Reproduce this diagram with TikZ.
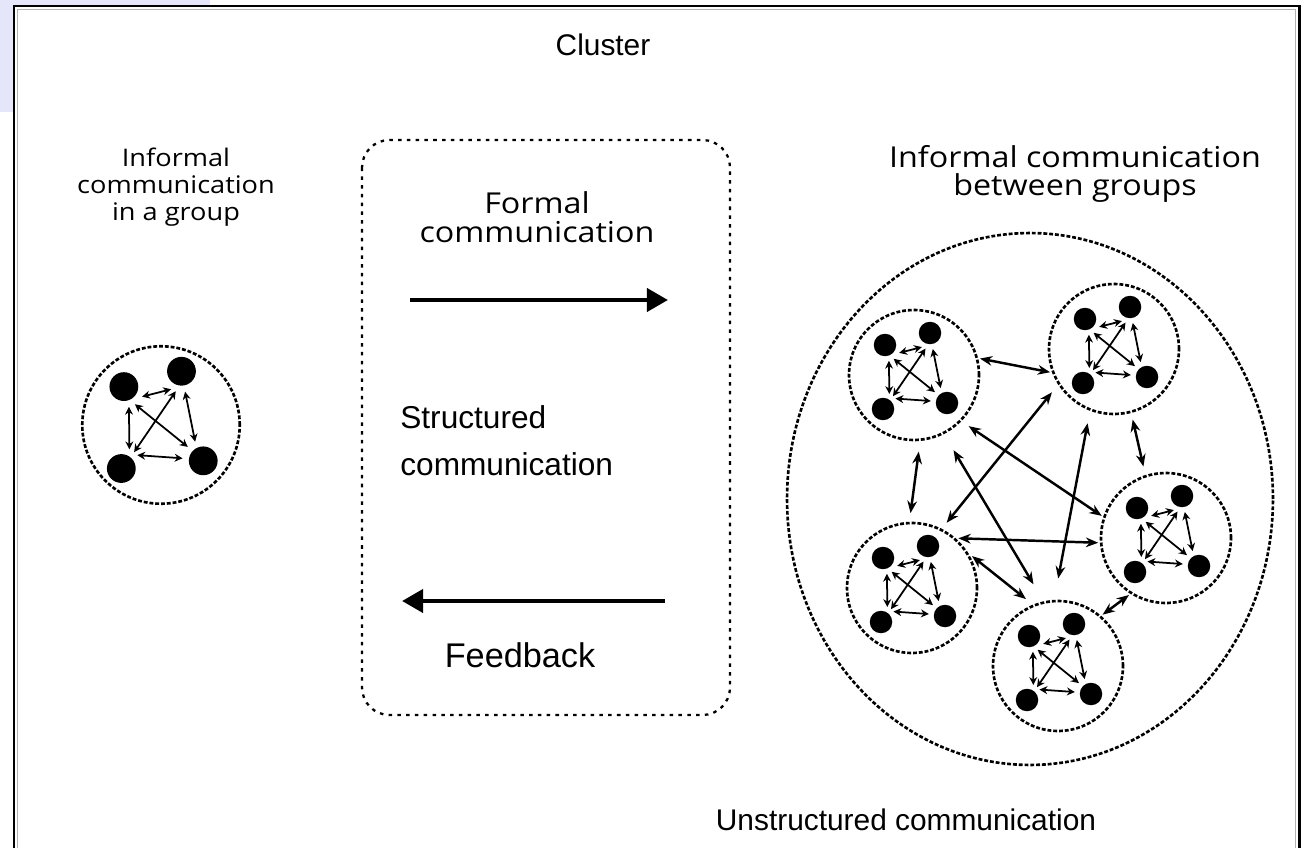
\documentclass[tikz,border=0pt]{standalone}
\usepackage{fontspec}
\setmainfont{Liberation Sans}
\newfontfamily\myriad[FakeStretch=1.12]{Open Sans}
\usetikzlibrary{arrows.meta}
\definecolor{lavend}{RGB}{230,230,250}

\begin{document}
\begin{tikzpicture}[x=0.02cm,y=-0.02cm,
  dot/.style = {circle,fill,inner sep=0pt},
  grp/.style = {circle,draw,line width=1.5pt,dash pattern=on 2.2pt off 1.1pt,inner sep=0pt,outer sep=1.7pt},
  inarr/.style = {{Stealth[length=4.5pt,width=4.5pt]}-{Stealth[length=4.5pt,width=4.5pt]},line width=1pt},
  exarr/.style = {{Stealth[length=7pt,width=5.5pt]}-{Stealth[length=7pt,width=5.5pt]},line width=1.4pt},
  bigarr/.style = {-{Triangle[length=12pt,width=13pt]},line width=2.6pt},
  hlv/.style = {font=\fontsize{17}{20}\selectfont},
  myr/.style = {font=\myriad\fontsize{16.4}{16.4}\selectfont,align=center}]
  \useasboundingbox (0,0) rectangle (1303,848);
  \fill[lavend] (0,0) rectangle (210,112);
  \fill[white] (14,6) rectangle (1299,848);
  \draw[line width=1.7pt] (14,848) -- (14,6) -- (1299,6) -- (1299,848);
  \draw[black!30,line width=0.6pt] (17.5,848) -- (17.5,9.5) -- (1295.5,9.5) -- (1295.5,848);
  % texts
  \node (cluster) at (603,45) [hlv] {Cluster};
  \node (ingroup) at (176,187) [myr,font=\myriad\fontsize{13.8}{15.4}\selectfont] {Informal\\communication\\in a group};
  \node (formal) at (537,217) [myr] {Formal\\communication};
  \node (between) at (1075,174) [myr] {Informal communication\\between groups};
  \node (struct) at (400,441) [hlv,anchor=west,inner sep=0pt,align=left,font=\fontsize{18}{26.7}\selectfont] {Structured\\communication};
  \node (feedb) at (520,655) [hlv,font=\fontsize{19.5}{22}\selectfont] {Feedback};
  \node (unstr) at (906,820) [hlv] {Unstructured communication};
  % formal box
  \draw[line width=1.3pt,dash pattern=on 2pt off 3pt,rounded corners=0.55cm] (362,140) rectangle (730,715);
  \coordinate (fa) at (410,300);
  \coordinate (fb) at (668,300);
  \coordinate (ka) at (665,601);
  \coordinate (kb) at (402,601);
  \draw[bigarr] (fa) -- (fb);
  \draw[bigarr] (ka) -- (kb);
  % groups
  \draw[line width=1.5pt,dash pattern=on 2.2pt off 1.1pt] (1030,499) ellipse [x radius=4.86cm,y radius=5.32cm];
  \foreach \g/\x/\y/\s/\d in {g0/161/425/1.28/3.15,g1/914/375/1/2.6,g2/1114/349/1/2.6,g3/1166/538/1/2.6,g4/912/588/1/2.6,g5/1058/666/1/2.6}{
    \node (\g) at (\x,\y) [grp,minimum size=\d cm] {};
    \node (\g-a) at ({\x-29*\s},{\y-30*\s}) [dot,minimum size=0.45cm*\s,outer sep=0.1cm*\s] {};
    \node (\g-b) at ({\x+16*\s},{\y-42*\s}) [dot,minimum size=0.45cm*\s,outer sep=0.1cm*\s] {};
    \node (\g-c) at ({\x-31*\s},{\y+34*\s}) [dot,minimum size=0.45cm*\s,outer sep=0.1cm*\s] {};
    \node (\g-d) at ({\x+33*\s},{\y+28*\s}) [dot,minimum size=0.45cm*\s,outer sep=0.1cm*\s] {};
    \draw[inarr] (\g-a.331) -- (\g-b.240);
    \draw[inarr] (\g-a.284) -- (\g-c.67);
    \draw[inarr] (\g-b.280) -- (\g-d.113);
    \draw[inarr] (\g-c.40) -- (\g-d.173);
    \draw[inarr] (\g-a.302) -- (\g-d.138);
    \draw[inarr] (\g-b.254) -- (\g-c.52);
  }
  \draw[exarr] (g1.14) -- (g2.200);
  \draw[exarr,shorten <=0.18cm,shorten >=0.14cm] (g1.275) -- (g4.92);
  \draw[exarr,shorten <=0.14cm] (g1.316) -- (g3.161);
  \draw[exarr,shorten <=0.34cm,shorten >=0.36cm] (g1.297) -- (g5.103);
  \draw[exarr,shorten <=0.16cm,shorten >=0.12cm] (g2.213) -- (g4.63);
  \draw[exarr,shorten <=0.22cm,shorten >=0.4cm] (g2.249) -- (g5.93);
  \draw[exarr,shorten <=0.1cm,shorten >=0.14cm] (g2.285) -- (g3.108);
  \draw[exarr] (g4.47) -- (g3.184);
  \draw[exarr,shorten >=0.14cm] (g4.28) -- (g5.113);
  \draw[exarr] (g3.237) -- (g5.49);
\end{tikzpicture}
\end{document}
